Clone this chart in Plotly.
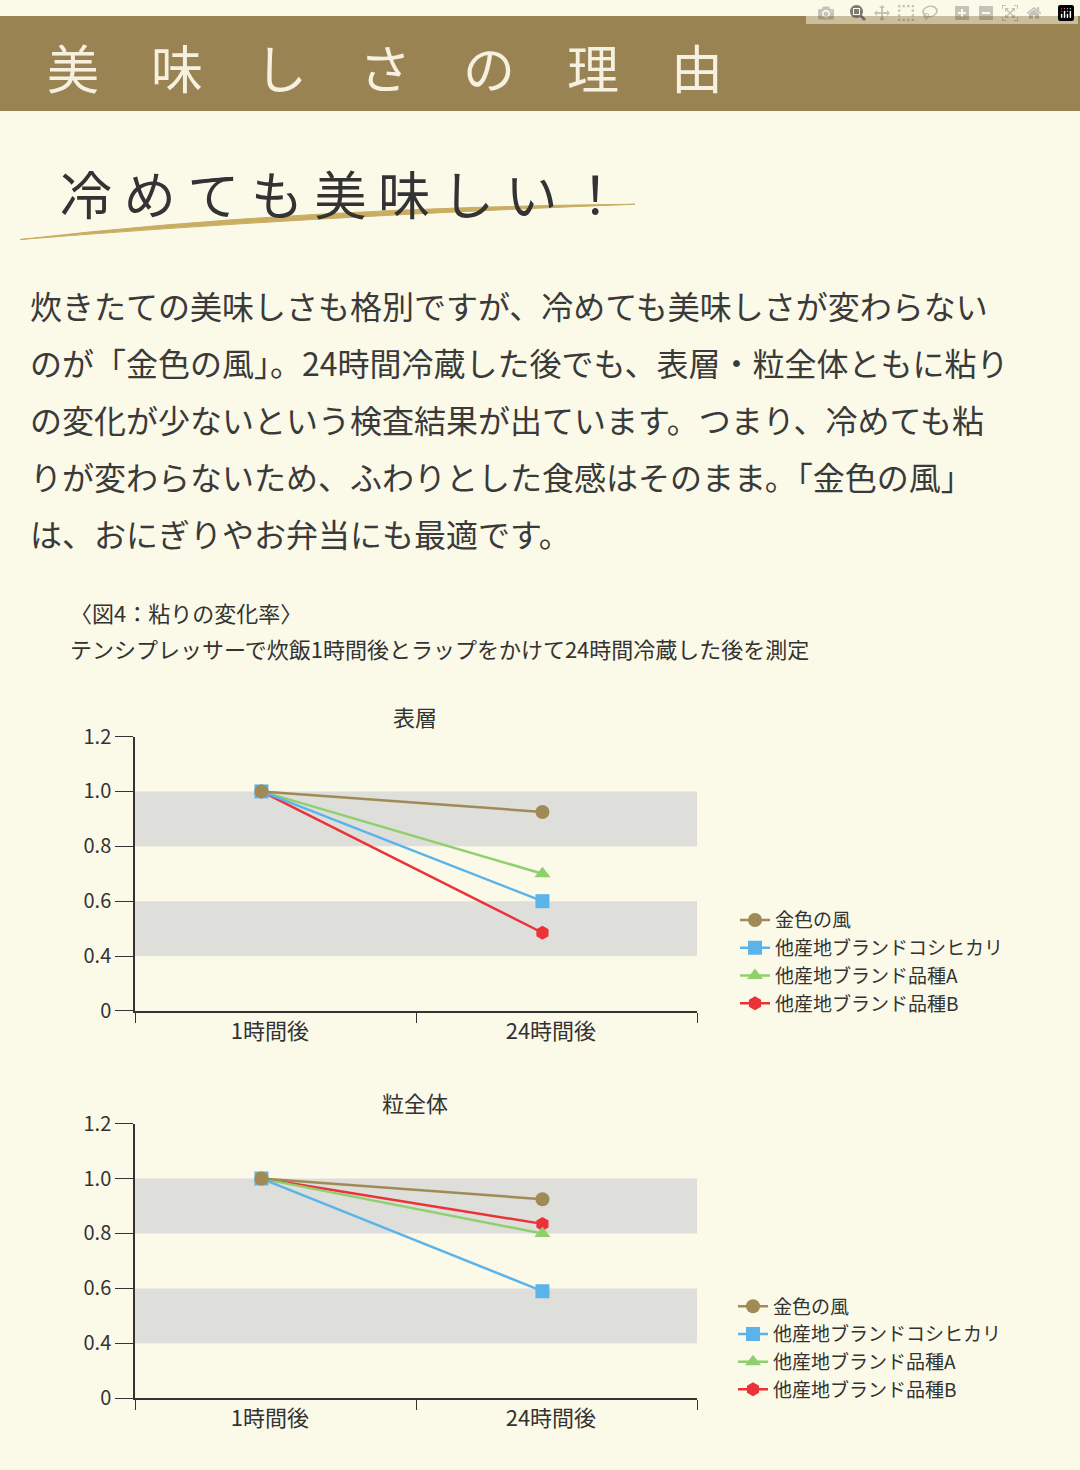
import plotly.graph_objects as go

W, H = 1080, 1470
FONT = "Noto Sans CJK JP"

# data
x_labels = ["1時間後", "24時間後"]
series = ["金色の風", "他産地ブランドコシヒカリ", "他産地ブランド品種A", "他産地ブランド品種B"]
surface = [[1.0, 0.925], [1.0, 0.60], [1.0, 0.70], [1.0, 0.485]]
whole = [[1.0, 0.925], [1.0, 0.59], [1.0, 0.80], [1.0, 0.835]]
y_tickvals = [0.2, 0.4, 0.6, 0.8, 1.0, 1.2]
y_ticktext = ["0", "0.4", "0.6", "0.8", "1.0", "1.2"]
paragraph = [
    "炊きたての美味しさも格別ですが、冷めても美味しさが変わらない",
    "のが「金色の風」。24時間冷蔵した後でも、表層・粒全体ともに粘り",
    "の変化が少ないという検査結果が出ています。つまり、冷めても粘",
    "りが変わらないため、ふわりとした食感はそのまま。「金色の風」",
    "は、おにぎりやお弁当にも最適です。",
]

colors = ["#a08a55", "#5ab4ea", "#8fd06e", "#ea3238"]
symbols = ["circle", "square", "triangle-up", "hexagon"]


def px(x):
    return x / W


def py(y):
    return 1 - y / H


fig = go.Figure()
# draw in reverse so 金色の風 sits on top, legend order kept by legendrank
for i in reversed(range(len(series))):
    for vals, xa, ya, lg in [(surface, "x", "y", "legend"), (whole, "x2", "y2", "legend2")]:
        fig.add_trace(go.Scatter(
            x=[0, 1], y=vals[i], name=series[i], xaxis=xa, yaxis=ya, legend=lg, legendrank=i,
            mode="lines+markers", line=dict(color=colors[i], width=2.5),
            marker=dict(color=colors[i], symbol=symbols[i], size=14)))

xdom = [px(135), px(697)]
axis_common = dict(showline=True, linecolor="#333", linewidth=1.5, showgrid=False, zeroline=False,
                   tickfont=dict(size=20, color="#333", family=FONT))
xax = dict(axis_common, range=[-0.45, 1.55], domain=xdom, tickvals=[0.03, 1.03], ticktext=x_labels, ticks="",
           tickfont=dict(size=22, color="#333", family=FONT),
           minor=dict(ticks="outside", tick0=-0.45, dtick=1, ticklen=10, tickcolor="#333"))
yax = dict(axis_common, range=[0.2, 1.2], tickvals=y_tickvals, ticktext=y_ticktext,
           ticks="outside", ticklen=18, tickcolor="#333")
fig.update_layout(
    xaxis=dict(xax, anchor="y"), yaxis=dict(yax, domain=[py(1015), py(735)], anchor="x"),
    xaxis2=dict(xax, anchor="y2"), yaxis2=dict(yax, domain=[py(1410), py(1130)], anchor="x2"),
)

shapes = [dict(type="rect", xref="paper", yref="paper", x0=0, x1=1, y0=py(97), y1=1,
               fillcolor="#9a8352", line_width=0, layer="below"),
          dict(type="path", xref="paper", yref="paper",
               path=f"M {px(20)},{py(228)} Q {px(300)},{py(195)} {px(635)},{py(192)} Q {px(300)},{py(205)} {px(20)},{py(228)} Z",
               fillcolor="#c9ad62", line=dict(color="#c9ad62", width=1))]
for xr, yr in [("x", "y"), ("x2", "y2")]:
    for lo, hi in [(0.8, 1.0), (0.4, 0.6)]:
        shapes.append(dict(type="rect", xref=xr, yref=yr, x0=-0.45, x1=1.55, y0=lo, y1=hi,
                           fillcolor="#dededb", line_width=0, layer="below"))

ann = [
    dict(x=px(45), y=py(52), text="美　味　し　さ　の　理　由", font=dict(size=52, color="#f5f0e0", family=FONT)),
    dict(x=px(58), y=py(180), text="冷 め て も 美 味 し い ！", font=dict(size=52, color="#333", family=FONT)),
    dict(x=px(68), y=py(608), text="〈図4：粘りの変化率〉", font=dict(size=22, color="#333", family=FONT)),
    dict(x=px(68), y=py(645), text="テンシプレッサーで炊飯1時間後とラップをかけて24時間冷蔵した後を測定",
         font=dict(size=22, color="#333", family=FONT)),
    dict(x=px(415), y=py(714), text="表層", xanchor="center", font=dict(size=22, color="#333", family=FONT)),
    dict(x=px(415), y=py(1108), text="粒全体", xanchor="center", font=dict(size=22, color="#333", family=FONT)),
]
for k, line in enumerate(paragraph):
    ann.append(dict(x=px(28), y=py(295 + 58 * k), text=line, font=dict(size=32, color="#3a3a3a", family=FONT)))
for a in ann:
    a.update(xref="paper", yref="paper", showarrow=False, xanchor=a.get("xanchor", "left"), yanchor="middle")

leg = dict(font=dict(size=19, color="#333", family=FONT), bgcolor="rgba(0,0,0,0)",
           xanchor="left", yanchor="top", tracegroupgap=0, itemwidth=30)
fig.update_layout(
    width=W, height=H, margin=dict(l=0, r=0, t=0, b=0),
    paper_bgcolor="#fbf9e8", plot_bgcolor="rgba(0,0,0,0)",
    shapes=shapes, annotations=ann, showlegend=True,
    legend=dict(leg, x=px(735), y=py(903)),
    legend2=dict(leg, x=px(733), y=py(1297)),
)

fig.write_html("out.html", post_script="document.body.style.margin='0';")
